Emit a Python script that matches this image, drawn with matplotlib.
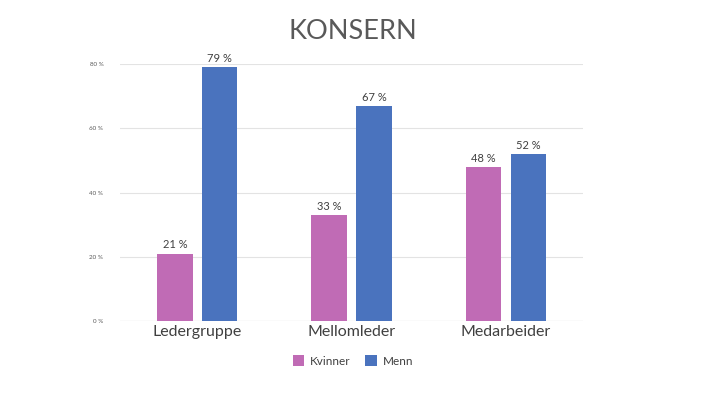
import numpy as np
import matplotlib
matplotlib.use("Agg")
import matplotlib.pyplot as plt

# ------------------------------
# Data
# ------------------------------
categories = ["Ledergruppe", "Mellomleder", "Medarbeider"]
kvinner = [21, 33, 48]
menn = [79, 67, 52]
yticks = [0, 20, 40, 60, 80]

plt.rcParams['font.family'] = ['Lato', 'DejaVu Sans']

fig = plt.figure(figsize=(7.06, 3.98), dpi=100)
ax = fig.add_axes([0.170, 0.1935, 0.656, 0.6455])

x = np.arange(len(categories))
w = 0.23
b1 = ax.bar(x - 0.145, kvinner, w, color="#C06BB5", label="Kvinner", zorder=3)
b2 = ax.bar(x + 0.145, menn, w, color="#4A73BE", label="Menn", zorder=3)

for bars in (b1, b2):
    for r in bars:
        ax.text(r.get_x() + r.get_width() / 2, r.get_height() + 1,
                f"{int(r.get_height())} %", ha="center", va="bottom",
                fontsize=8, color="#404040")

ax.set_xlim(-0.5, 2.5)
ax.set_ylim(0, 80)
ax.set_yticks(yticks)
ax.set_yticklabels([f"{v} %" for v in yticks], fontsize=4.5, color="#595959")
ax.set_xticks(x)
ax.set_xticklabels(categories, fontsize=11.5, color="#404040")
ax.tick_params(axis="both", length=0)
ax.tick_params(axis="y", pad=12)
ax.tick_params(axis="x", pad=3)
ax.grid(axis="y", color="#E3E3E3", linewidth=0.8, zorder=0)
for s in ax.spines.values():
    s.set_visible(False)
ax.axhline(0, color="#D9D9D9", linewidth=0.8, zorder=1)

fig.text(0.5, 0.922, "KONSERN", ha="center", va="center", fontsize=19.5, color="#595959")

fig.legend(handles=[b1, b2], loc="center", bbox_to_anchor=(0.5, 0.093), ncol=2,
           frameon=False, fontsize=8.5, handlelength=1, handleheight=1,
           handletextpad=0.5, columnspacing=1.2, labelcolor="#404040")

fig.savefig("out.png", dpi=100)
